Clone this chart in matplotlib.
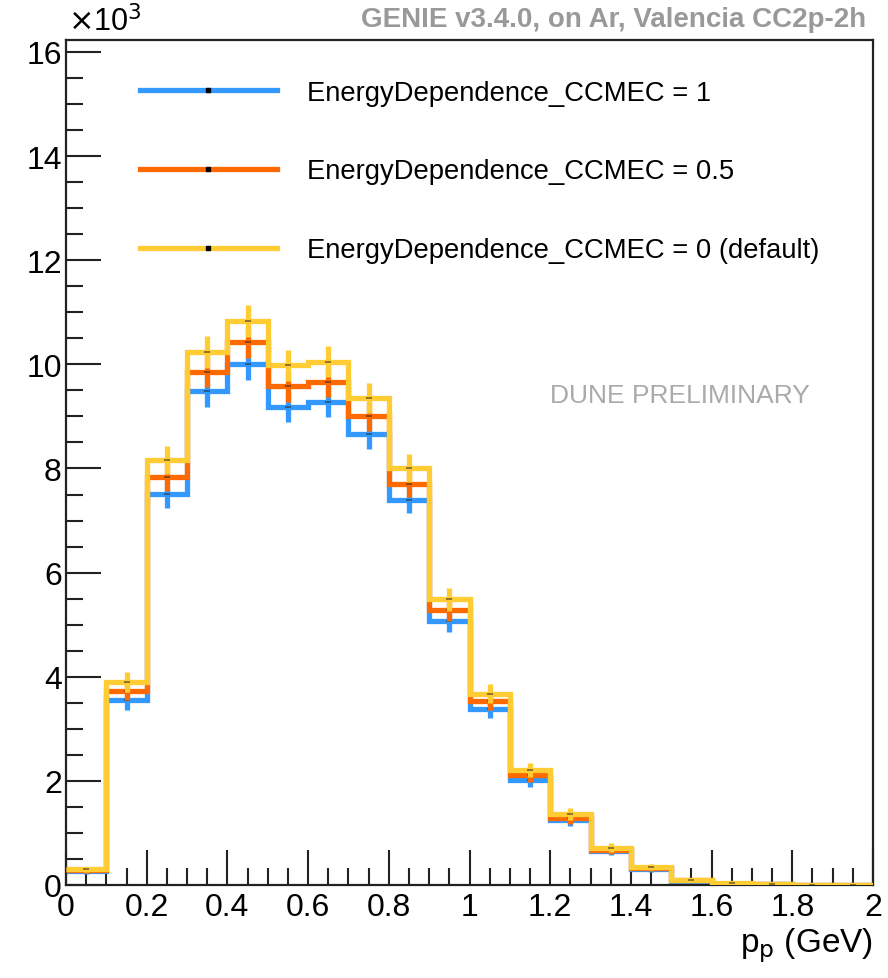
import numpy as np
import matplotlib
matplotlib.use("Agg")
import matplotlib.pyplot as plt
from matplotlib.ticker import MultipleLocator, FuncFormatter
from matplotlib.lines import Line2D

plt.rcParams['font.family'] = ['Liberation Sans', 'DejaVu Sans']

# Proton momentum bins (GeV)
bin_edges = np.round(np.arange(0.0, 2.0001, 0.1), 2)

# Event counts per bin
counts_ed1 = [260, 3550, 7510, 9480, 10000, 9190, 9280, 8660, 7400, 5080,
              3390, 2020, 1240, 650, 310, 85, 25, 12, 4, 2]
counts_ed05 = [280, 3730, 7840, 9860, 10420, 9580, 9660, 9000, 7710, 5290,
               3530, 2110, 1280, 680, 330, 92, 28, 13, 5, 2]
counts_ed0 = [300, 3900, 8160, 10240, 10830, 9980, 10050, 9360, 8010, 5490,
              3670, 2210, 1360, 720, 350, 100, 30, 15, 5, 2]

# Per-bin uncertainties
err_ed1 = [48, 180, 260, 292, 300, 288, 289, 279, 258, 214,
           175, 135, 106, 76, 53, 28, 15, 10, 6, 4]
err_ed05 = [50, 183, 265, 298, 306, 294, 295, 285, 263, 218,
            178, 138, 108, 78, 55, 29, 16, 11, 6, 4]
err_ed0 = [52, 187, 271, 304, 312, 300, 301, 290, 268, 222,
           182, 141, 111, 80, 56, 30, 16, 11, 6, 4]

labels = ["EnergyDependence_CCMEC = 1",
          "EnergyDependence_CCMEC = 0.5",
          "EnergyDependence_CCMEC = 0 (default)"]
colors = ["#3399ff", "#ff6a00", "#ffcc33"]

fig = plt.figure(figsize=(8.88, 9.79), dpi=100)
ax = fig.add_axes([66/888, 1 - 886/979, (873 - 66)/888, (886 - 41)/979])

centers = 0.5 * (bin_edges[:-1] + bin_edges[1:])
lw = 3.8
series = [(counts_ed1, err_ed1), (counts_ed05, err_ed05), (counts_ed0, err_ed0)]
for i, ((vals, errs), col) in enumerate(zip(series, colors)):
    vals = np.asarray(vals, float)
    errs = np.asarray(errs, float)
    z = 2 + 2 * i
    ax.vlines(centers, vals - errs, vals + errs, colors=col, lw=lw, zorder=z)
    ax.stairs(vals, bin_edges, baseline=None, color=col, lw=lw, zorder=z + 0.5)
    ax.plot(centers, vals, ls='none', marker='_', ms=5, mew=1.2,
            color='#222222', zorder=z + 0.6, alpha=0.6)

ax.set_xlim(0, 2)
ax.set_ylim(0, 16230)

ax.xaxis.set_major_locator(MultipleLocator(0.2))
ax.xaxis.set_minor_locator(MultipleLocator(0.05))
ax.yaxis.set_major_locator(MultipleLocator(2000))
ax.yaxis.set_minor_locator(MultipleLocator(500))

ax.xaxis.set_major_formatter(FuncFormatter(lambda v, p: f"{v:g}"))
ax.yaxis.set_major_formatter(FuncFormatter(lambda v, p: f"{v/1000:g}"))

ax.tick_params(axis='both', which='both', direction='in', top=False, right=False,
               labelsize=23, width=1.5, color='#222222')
ax.tick_params(axis='both', which='major', length=25)
ax.tick_params(axis='both', which='minor', length=12)
ax.tick_params(axis='x', which='major', pad=5)
ax.tick_params(axis='y', which='major', pad=3)

for s in ax.spines.values():
    s.set_linewidth(1.6)
    s.set_color('#222222')

# Axis multiplier and labels
fig.text(68/888, 1 - 22/979, r"$\times$10$^{3}$", fontsize=22, va='center', ha='left')
ax.set_xlabel(r"p$_{\rm p}$ (GeV)", fontsize=24, loc='right', labelpad=2)

fig.text(866/888, 1 - 20/979, "GENIE v3.4.0, on Ar, Valencia CC2p-2h",
         fontsize=20, fontweight='bold', color='#999999', ha='right', va='center')
ax.text(0.922, 0.580, "DUNE PRELIMINARY", transform=ax.transAxes, fontsize=19,
        color='#aaaaaa', ha='right', va='center')

handles = [Line2D([0], [0], color=c, lw=lw, marker='s', ms=3,
                  mfc='black', mec='black') for c in colors]
ax.legend(handles, labels, loc='upper left', bbox_to_anchor=(0.078, 0.966),
          frameon=False, fontsize=19.7, handlelength=5.0, handletextpad=1.1,
          labelspacing=1.93, borderaxespad=0)

fig.savefig("out.png", dpi=100)
